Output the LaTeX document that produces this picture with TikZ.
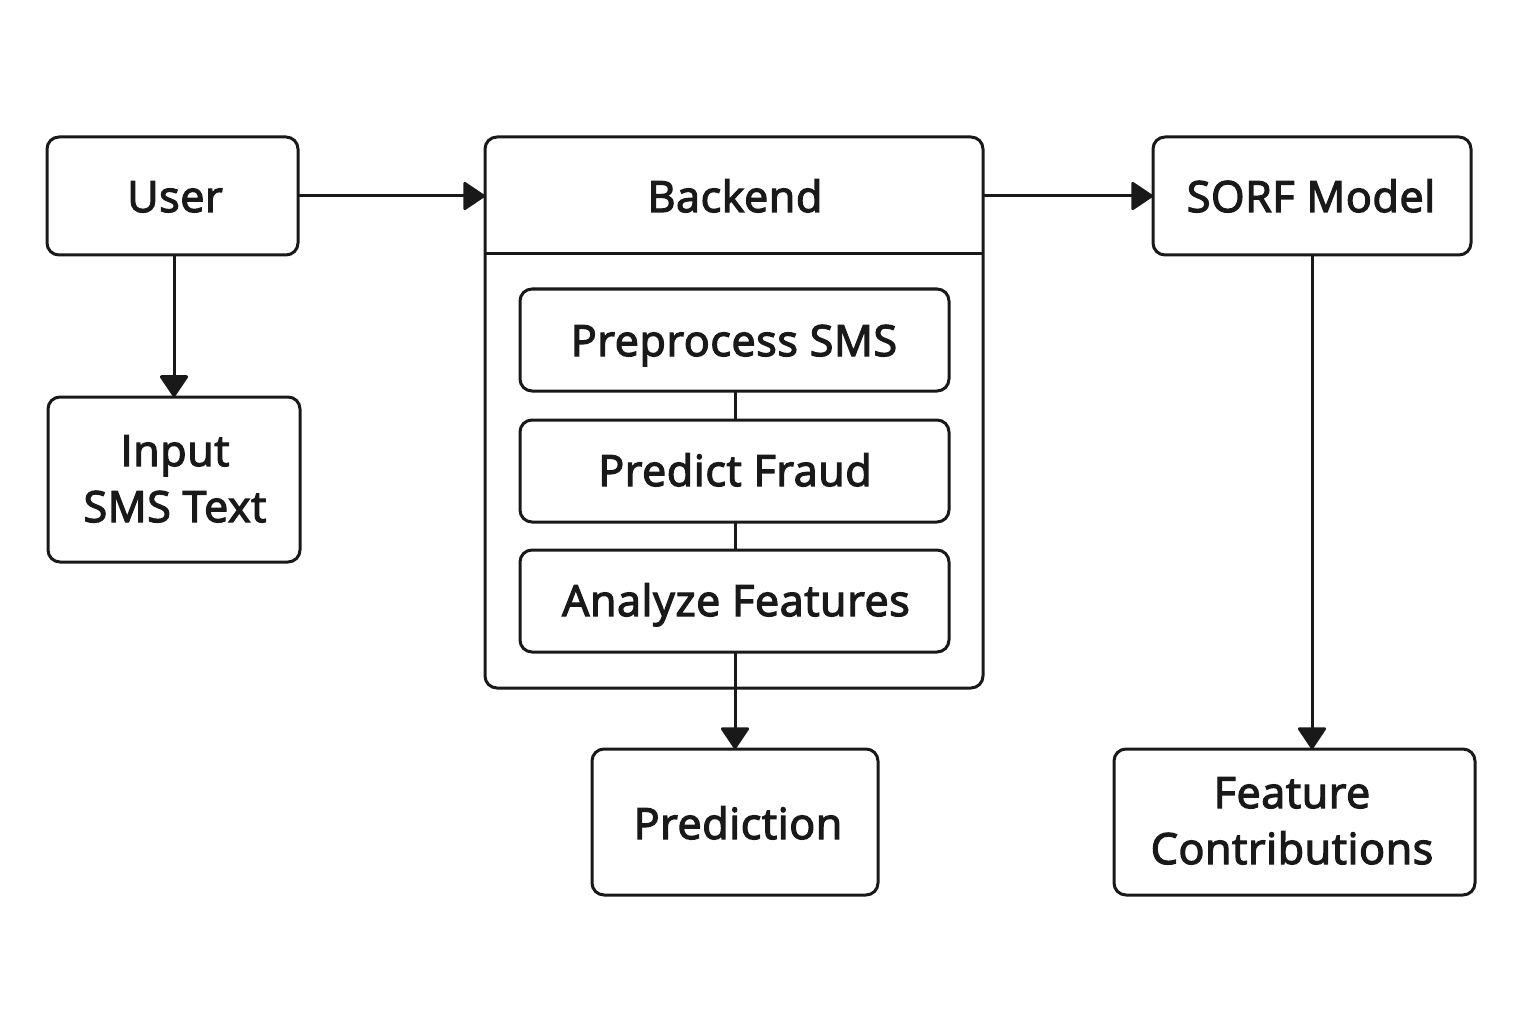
\documentclass[tikz,border=0pt]{standalone}
\usepackage{fontspec}
\setmainfont{Open Sans}
\newfontfamily\lblfont{Open Sans}[FakeBold=3,LetterSpace=1.5]
\usetikzlibrary{arrows.meta}
\begin{document}
\begin{tikzpicture}[x=1pt,y=-1pt,
  box/.style={draw=black!90, line width=3pt, rounded corners=12pt},
  lbl/.style={font=\lblfont\fontsize{43}{56}\selectfont, text=black!90, align=center, inner sep=0pt},
  one/.style={lbl, anchor=base},
  arr/.style={draw=black!90, line width=3pt, -{Triangle[length=23pt,width=30pt,round]}},
  lnk/.style={draw=black!90, line width=3pt}]
\useasboundingbox (0,0) rectangle (1536,1024);
% boxes
\draw[box] (47,137) rectangle (298,255);
\node[one] (user) at (175,212) {User};
\coordinate (userR) at (298,196);
\coordinate (userB) at (174,255);
\draw[box] (48,397) rectangle (300,562);
\node[lbl, anchor=base] (input) at (175,522) {Input\\SMS Text};
\coordinate (inputT) at (174,397);

\draw[box] (485,137) rectangle (983,688);
\draw[lnk] (485,254) -- (983,254);
\node[one] (backend) at (735,212) {Backend};
\coordinate (backL) at (485,196);
\coordinate (backR) at (983,196);

\draw[box] (520,289) rectangle (949,391);
\node[one] (pre) at (734,356) {Preprocess SMS};
\draw[box] (520,420) rectangle (949,522);
\node[one] (pf) at (735,486) {Predict Fraud};
\draw[box] (520,550) rectangle (949,652);
\node[one] (af) at (736,616) {Analyze Features};
\coordinate (preB) at (735,391);
\coordinate (pfT) at (735,420);
\coordinate (pfB) at (735,522);
\coordinate (afT) at (735,550);
\coordinate (afB) at (735,652);

\draw[box] (592,749) rectangle (878,895);
\node[one] (pred) at (738,839) {Prediction};
\coordinate (predT) at (735,749);

\draw[box] (1153,137) rectangle (1471,255);
\node[one] (sorf) at (1311,212) {SORF Model};
\coordinate (sorfL) at (1153,196);
\coordinate (sorfB) at (1312,255);

\draw[box] (1114,749) rectangle (1475,895);
\node[lbl, anchor=base] (fc) at (1292,864) {Feature\\Contributions};
\coordinate (fcT) at (1312,749);

% connectors
\draw[arr] (userR) -- (backL);
\draw[arr] (userB) -- (inputT);
\draw[arr] (backR) -- (sorfL);
\draw[arr] (sorfB) -- (fcT);
\draw[arr] (afB) -- (predT);
\draw[lnk] (preB) -- (pfT);
\draw[lnk] (pfB) -- (afT);
\end{tikzpicture}
\end{document}
